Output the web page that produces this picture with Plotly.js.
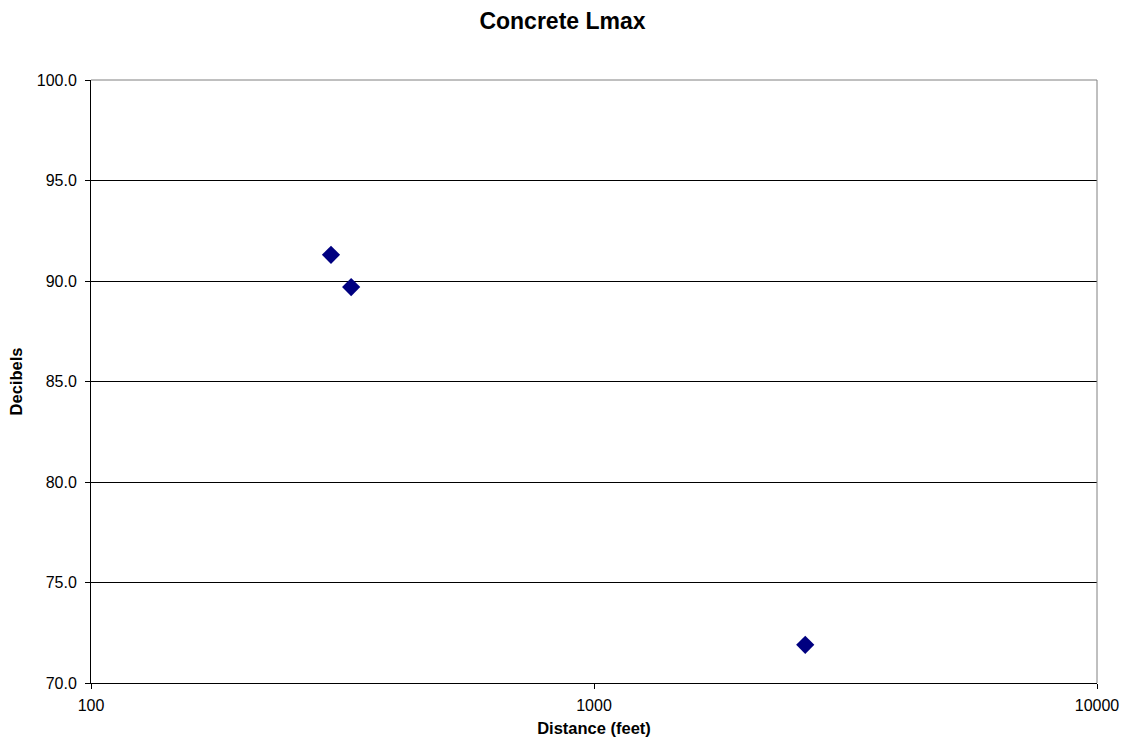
<!DOCTYPE html>
<html>
<head>
<meta charset="utf-8">
<script src="https://cdn.plot.ly/plotly-3.0.1.min.js"></script>
<style>html,body{margin:0;padding:0;background:#fff;}#chart{width:1125px;height:744px;}</style>
</head>
<body>
<div id="chart"></div>
<script>
const distanceFeet = [300, 329, 2630];
const decibels = [91.3, 89.7, 71.9];
const yTickVals = [70, 75, 80, 85, 90, 95, 100];
const yTickText = ["70.0", "75.0", "80.0", "85.0", "90.0", "95.0", "100.0"];
const xTickVals = [100, 1000, 10000];
const xTickText = ["100", "1000", "10000"];

const font = "Liberation Sans, Arial, sans-serif";
Plotly.newPlot("chart", [{
  x: distanceFeet, y: decibels, type: "scatter", mode: "markers",
  marker: {symbol: "diamond", size: 14, color: "#000080", line: {width: 0}},
  showlegend: false, hoverinfo: "x+y"
}], {
  width: 1125, height: 744,
  margin: {l: 91, r: 28, t: 80, b: 61},
  paper_bgcolor: "#fff", plot_bgcolor: "#fff",
  font: {family: font, color: "#000", size: 16},
  title: {text: "<b>Concrete Lmax</b>", font: {family: font, size: 23, color: "#000"}, x: 0.5, xanchor: "center", y: 0.972, yanchor: "middle"},
  xaxis: {
    type: "log", range: [2, 4], tickvals: xTickVals, ticktext: xTickText,
    showgrid: false, zeroline: false, showline: true, linecolor: "#000", linewidth: 1,
    ticks: "outside", ticklen: 5, tickcolor: "#000", tickfont: {size: 16, family: font},
    ticklabelstandoff: 3,
    title: {text: "<b>Distance (feet)</b>", font: {size: 16.5, family: font}, standoff: 9}
  },
  yaxis: {
    range: [70, 100], tickvals: yTickVals, ticktext: yTickText,
    showgrid: true, gridcolor: "#000", gridwidth: 1, zeroline: false,
    showline: true, linecolor: "#000", linewidth: 1,
    ticks: "outside", ticklen: 5, tickcolor: "#000", tickfont: {size: 16, family: font},
    ticklabelstandoff: 5,
    title: {text: "<b>Decibels</b>", font: {size: 16.5, family: font}, standoff: 9}
  },
  shapes: [
    {type: "line", xref: "paper", yref: "paper", x0: 1, x1: 1, y0: 0, y1: 1, line: {color: "#808080", width: 1}},
    {type: "line", xref: "paper", yref: "paper", x0: 0, x1: 1, y0: 1, y1: 1, line: {color: "#808080", width: 1}}
  ]
}, {staticPlot: true});
</script>
</body>
</html>
